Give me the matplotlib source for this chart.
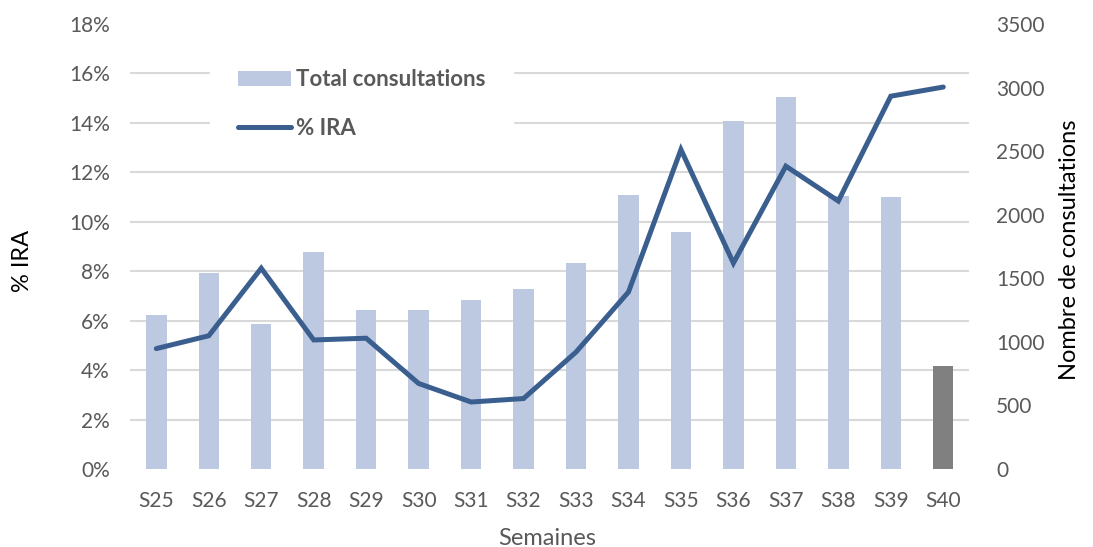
import matplotlib
matplotlib.use("Agg")
import matplotlib.pyplot as plt
import numpy as np

# weekly data
semaines = ["S25", "S26", "S27", "S28", "S29", "S30", "S31", "S32",
            "S33", "S34", "S35", "S36", "S37", "S38", "S39", "S40"]
consultations = [1213, 1540, 1142, 1707, 1249, 1254, 1329, 1414,
                 1620, 2155, 1867, 2740, 2929, 2149, 2141, 813]
pct_ira = [4.87, 5.39, 8.12, 5.22, 5.29, 3.46, 2.71, 2.85,
           4.73, 7.16, 12.92, 8.33, 12.25, 10.84, 15.08, 15.45]
pct_ticks = [0, 2, 4, 6, 8, 10, 12, 14, 16, 18]
cons_ticks = [0, 500, 1000, 1500, 2000, 2500, 3000, 3500]

plt.rcParams['font.family'] = ['Lato', 'DejaVu Sans']
grey_txt = "#595959"
bar_col = "#bdc9e1"
last_col = "#808080"
line_col = "#3a5f8f"

fig = plt.figure(figsize=(10.93, 5.47), dpi=100)
ax_bar = fig.add_axes([0.119, 0.1426, 0.768, 0.8135])
ax_line = ax_bar.twinx()

x = np.arange(len(semaines))
colors = [bar_col] * (len(semaines) - 1) + [last_col]
bars = ax_bar.bar(x, consultations, width=0.39, color=colors, zorder=2,
                  label="Total consultations")
ax_bar.set_ylim(0, 3500)
ax_bar.set_yticks(cons_ticks)
ax_bar.yaxis.tick_right()
ax_bar.yaxis.set_label_position("right")

# gridlines follow the left (%) ticks, drawn behind the bars
ax_bar.set_yticks(np.array(pct_ticks) / 18 * 3500, minor=True)
ax_bar.grid(which="minor", axis="y", color="#d9d9d9", linewidth=1.5, zorder=0)
ax_bar.grid(which="major", visible=False)
ax_bar.tick_params(which="minor", length=0)

line, = ax_line.plot(x, pct_ira, color=line_col, linewidth=3.6,
                     solid_capstyle="round", solid_joinstyle="miter", label="% IRA", zorder=3)
ax_line.set_ylim(0, 18)
ax_line.set_yticks(pct_ticks)
ax_line.set_yticklabels([f"{t}%" for t in pct_ticks])
ax_line.yaxis.tick_left()
ax_line.yaxis.set_label_position("left")

ax_bar.set_xlim(-0.5, len(semaines) - 0.5)
ax_bar.set_xticks(x)
ax_bar.set_xticklabels(semaines)

for a in (ax_bar, ax_line):
    for s in a.spines.values():
        s.set_visible(False)
    a.tick_params(which="major", length=0, labelsize=15, labelcolor=grey_txt)
ax_bar.tick_params(axis="x", pad=16)
ax_bar.tick_params(axis="y", pad=19)
ax_line.tick_params(axis="y", pad=14.5)

ax_line.set_ylabel("% IRA", fontsize=17, color="black")
ax_line.yaxis.set_label_coords(-0.1155, 0.467)
ax_bar.set_ylabel("Nombre de consultations", fontsize=17, color="black", rotation=90)
ax_bar.yaxis.set_label_coords(1.107, 0.492)
ax_bar.set_xlabel("Semaines", fontsize=17, color=grey_txt)
ax_bar.xaxis.set_label_coords(0.497, -0.1326)

leg = ax_line.legend(handles=[bars, line], loc="upper left",
                     bbox_to_anchor=(0.182, 0.945), bbox_transform=fig.transFigure,
                     frameon=True, facecolor="white", edgecolor="white", framealpha=1,
                     fancybox=False, borderpad=1.25, handlelength=2.4, handleheight=0.65,
                     handletextpad=0.2, labelspacing=1.25,
                     prop={"size": 16, "weight": "bold"})
for t in leg.get_texts():
    t.set_color(grey_txt)

fig.savefig("out.png", dpi=100)
